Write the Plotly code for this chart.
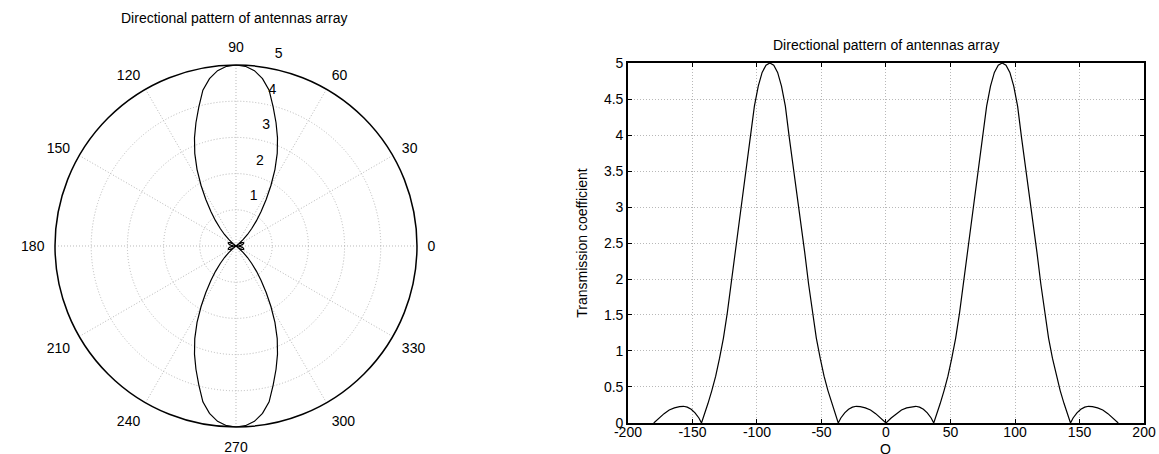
import plotly.graph_objects as go

# Angle (degrees) and transmission coefficient
theta_deg = [-180, -176, -172, -168, -164, -160, -157, -154, -151, -148, -145, -143,
             -141, -138, -135, -132, -129, -126, -123, -120, -117, -114, -111, -108,
             -105, -102, -99, -96, -93, -90, -87, -84, -81, -78, -75, -72, -69, -66,
             -63, -60, -57, -54, -51, -48, -45, -42, -39, -37,
             -35, -32, -29, -26, -23, -20, -16, -12, -8, -4, 0,
             4, 8, 12, 16, 20, 23, 26, 29, 32, 35, 37,
             39, 42, 45, 48, 51, 54, 57, 60, 63, 66, 69, 72, 75, 78, 81, 84, 87, 90,
             93, 96, 99, 102, 105, 108, 111, 114, 117, 120, 123, 126, 129, 132, 135,
             138, 141, 143,
             145, 148, 151, 154, 157, 160, 164, 168, 172, 176, 180]

gain = [0.0, 0.07, 0.13, 0.18, 0.21, 0.228, 0.232, 0.22, 0.19, 0.14, 0.07, 0.0,
        0.10, 0.27, 0.45, 0.65, 0.90, 1.18, 1.53, 1.93, 2.37, 2.80, 3.20, 3.58,
        3.97, 4.40, 4.68, 4.87, 4.97, 5.00, 4.97, 4.87, 4.68, 4.40, 3.97, 3.58, 3.20, 2.80,
        2.37, 1.93, 1.53, 1.18, 0.90, 0.65, 0.45, 0.27, 0.10, 0.0,
        0.07, 0.14, 0.19, 0.22, 0.232, 0.228, 0.21, 0.18, 0.13, 0.07, 0.0,
        0.07, 0.13, 0.18, 0.21, 0.228, 0.232, 0.22, 0.19, 0.14, 0.07, 0.0,
        0.10, 0.27, 0.45, 0.65, 0.90, 1.18, 1.53, 1.93, 2.37, 2.80, 3.20, 3.58, 3.97, 4.40, 4.68, 4.87, 4.97, 5.00,
        4.97, 4.87, 4.68, 4.40, 3.97, 3.58, 3.20, 2.80, 2.37, 1.93, 1.53, 1.18, 0.90, 0.65, 0.45,
        0.27, 0.10, 0.0,
        0.07, 0.14, 0.19, 0.22, 0.232, 0.228, 0.21, 0.18, 0.13, 0.07, 0.0]

x_tick_vals = [-200, -150, -100, -50, 0, 50, 100, 150, 200]
x_tick_text = ["-200", "-150", "-100", "-50", "0", "50", "100", "150", "200"]
y_tick_vals = [0, 0.5, 1, 1.5, 2, 2.5, 3, 3.5, 4, 4.5, 5]
y_tick_text = ["0", "0.5", "1", "1.5", "2", "2.5", "3", "3.5", "4", "4.5", "5"]
r_tick_vals = [1, 2, 3, 4, 5]
r_tick_labels = ["1", "2", "3", "4", "5"]
ang_tick_vals = [0, 30, 60, 90, 120, 150, 180, 210, 240, 270, 300, 330]
ang_tick_text = ["0", "30", "60", "90", "120", "150", "180", "210", "240", "270", "300", "330"]

title_text = "Directional pattern of antennas array"
x_title = "Q"
y_title = "Transmission coefficient"

FONT = "Liberation Sans, Arial, sans-serif"
GRID = "#b8b8b8"
DOTS = "1px,2px"

# radial labels sit a little outward of their circles (as in the reference):
# two empty lines under each label lift it above the tick position
r_tick_text = [t + "<br>\u00a0<br>\u00a0" for t in r_tick_labels]

fig = go.Figure()
fig.add_trace(go.Scatterpolar(r=gain, theta=theta_deg, mode="lines",
                              line=dict(color="black", width=1.2), showlegend=False))
fig.add_trace(go.Scatter(x=theta_deg, y=gain, mode="lines", xaxis="x", yaxis="y",
                         line=dict(color="black", width=1.2), showlegend=False))

fig.update_layout(
    width=1159, height=454,
    margin=dict(l=0, r=0, t=0, b=0),
    paper_bgcolor="white", plot_bgcolor="white",
    font=dict(family=FONT, size=14, color="black"),
    polar=dict(
        domain=dict(x=[0.04745, 0.35979], y=[0.05947, 0.85683]),
        bgcolor="white",
        radialaxis=dict(range=[0, 5], tickmode="array", tickvals=r_tick_vals, ticktext=r_tick_text,
                        showline=False, showgrid=True, gridcolor=GRID, griddash=DOTS, gridwidth=1,
                        angle=80, tickangle=80, ticks="", side="clockwise",
                        tickfont=dict(family=FONT, size=14, color="black")),
        angularaxis=dict(direction="counterclockwise", rotation=0, tickmode="array",
                         tickvals=ang_tick_vals, ticktext=ang_tick_text,
                         showline=True, linecolor="black", linewidth=1.5,
                         showgrid=True, gridcolor=GRID, griddash=DOTS, gridwidth=1,
                         ticks="outside", ticklen=7, tickcolor="rgba(0,0,0,0)",
                         tickfont=dict(family=FONT, size=14, color="black")),
    ),
    xaxis=dict(domain=[0.5418, 0.9871], range=[-200, 200], tickmode="array",
               tickvals=x_tick_vals, ticktext=x_tick_text,
               showline=True, linecolor="black", linewidth=1.5, mirror="allticks",
               ticks="inside", ticklen=4, tickcolor="black", ticklabelstandoff=-5,
               showgrid=True, gridcolor=GRID, griddash=DOTS, gridwidth=1, zeroline=False,
               automargin=False, anchor="y"),
    yaxis=dict(domain=[0.0683, 0.8612], range=[0, 5], tickmode="array",
               tickvals=y_tick_vals, ticktext=y_tick_text,
               showline=True, linecolor="black", linewidth=1.5, mirror="allticks",
               ticks="inside", ticklen=4, tickcolor="black",
               showgrid=True, gridcolor=GRID, griddash=DOTS, gridwidth=1, zeroline=False,
               title=dict(text=y_title, standoff=13, font=dict(family=FONT, size=14)),
               automargin=False, anchor="x"),
    annotations=[
        dict(text=title_text, x=0.2019, y=1 - 18 / 454, xref="paper", yref="paper",
             xanchor="center", yanchor="middle", showarrow=False,
             font=dict(family=FONT, size=14, color="black")),
        dict(text=title_text, x=0.7644, y=1 - 45 / 454, xref="paper", yref="paper",
             xanchor="center", yanchor="middle", showarrow=False,
             font=dict(family=FONT, size=14, color="black")),
        # x-axis title, sitting at the very bottom edge as in the reference
        dict(text=x_title, x=0, xref="x", y=0, yref="paper",
             xanchor="center", yanchor="middle", yshift=5, showarrow=False,
             font=dict(family=FONT, size=14, color="black")),
    ],
)

fig.write_html(
    "out.html",
    config={"displayModeBar": False},
    post_script="document.body.style.margin='0';document.body.style.padding='0';"
                "document.body.style.overflow='hidden';",
)
